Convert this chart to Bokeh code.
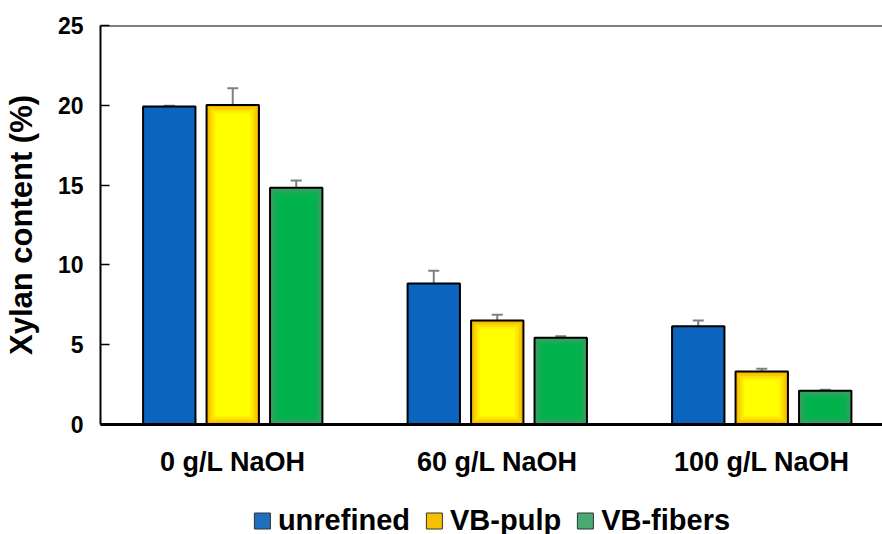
from bokeh.plotting import figure
from bokeh.layouts import column
from bokeh.models import (ColumnDataSource, Range1d, FixedTicker, Whisker, TeeHead,
                          Span, Legend, LegendItem)
from bokeh.embed import file_html
from bokeh.resources import INLINE

# ---- data ----
groups = ["0 g/L NaOH", "60 g/L NaOH", "100 g/L NaOH"]
series = ["unrefined", "VB-pulp", "VB-fibers"]
unrefined = [19.92, 8.83, 6.16]
vb_pulp = [20.02, 6.52, 3.32]
vb_fibers = [14.83, 5.43, 2.12]
err_unrefined = [0.05, 0.81, 0.36]
err_vb_pulp = [1.05, 0.35, 0.18]
err_vb_fibers = [0.46, 0.10, 0.05]
y_ticks = [0, 5, 10, 15, 20, 25]

values = [unrefined, vb_pulp, vb_fibers]
errors = [err_unrefined, err_vb_pulp, err_vb_fibers]

# ---- styling ----
FONT = "Liberation Sans"
offsets = [-0.24, 0.0, 0.24]
bar_w = 0.198
fills = [
    ["#0b64bd"],
    ["#f6b400", "#f9cc00", "#fbe000", "#fdf000", "#ffff00"],
    ["#3f9d64", "#26a65b", "#12ad53", "#05b14e", "#00b34c"],
]
swatch_colors = ["#1f6fc0", "#f5c000", "#4aa874"]

left_b, top_b = 100, 25
frame_w, frame_h = 782, 399
bottom_b = 66
px_per_group = 264.5

p = figure(frame_width=frame_w, frame_height=frame_h,
           output_backend="svg", toolbar_location=None,
           x_range=Range1d(-0.5, -0.5 + frame_w / px_per_group),
           y_range=Range1d(0, 25),
           min_border_left=left_b, min_border_top=top_b, min_border_right=0,
           min_border_bottom=bottom_b)
p.background_fill_color = "white"
p.border_fill_color = "white"
p.outline_line_color = None
p.grid.grid_line_color = None

dx_px = 2.2
for s in range(3):
    xs = [i + offsets[s] for i in range(len(groups))]
    vals = values[s]
    layers = fills[s]
    for k, col in enumerate(layers):
        ix = k * dx_px / px_per_group
        iy = k * dx_px * 25.0 / frame_h
        src = ColumnDataSource(dict(x=xs, top=[v - iy for v in vals],
                                    bottom=[iy] * len(vals)))
        p.vbar(x="x", top="top", bottom="bottom", width=bar_w - 2 * ix, source=src,
               fill_color=col, line_color=None)
    src_o = ColumnDataSource(dict(x=xs, top=vals))
    p.vbar(x="x", top="top", width=bar_w, source=src_o, fill_color=None,
           line_color="black", line_width=2)
    esrc = ColumnDataSource(dict(x=xs,
                                 upper=[v + e for v, e in zip(vals, errors[s])],
                                 lower=[v - e for v, e in zip(vals, errors[s])]))
    wk = Whisker(base="x", upper="upper", lower="lower", source=esrc,
                 line_color="#808080", line_width=2,
                 upper_head=TeeHead(size=11, line_color="#808080", line_width=2),
                 lower_head=TeeHead(size=11, line_color="#808080", line_width=2))
    p.add_layout(wk)

p.add_layout(Span(location=25, dimension="width", line_color="black", line_width=2))

p.yaxis.ticker = FixedTicker(ticks=y_ticks)
p.yaxis.major_tick_in = 9
p.yaxis.major_tick_out = 0
p.yaxis.minor_tick_line_color = None
p.yaxis.axis_line_width = 2
p.yaxis.major_tick_line_width = 1.5
p.yaxis.major_label_text_font = FONT
p.yaxis.major_label_text_font_style = "bold"
p.yaxis.major_label_text_font_size = "23px"
p.yaxis.major_label_text_color = "black"
p.yaxis.major_label_standoff = 17
p.yaxis.axis_label = "Xylan content (%)"
p.yaxis.axis_label_text_font = FONT
p.yaxis.axis_label_text_font_style = "bold"
p.yaxis.axis_label_text_font_size = "31px"
p.yaxis.axis_label_text_color = "black"
p.yaxis.axis_label_standoff = 16

p.xaxis.ticker = FixedTicker(ticks=list(range(len(groups))))
p.xaxis.major_label_overrides = {i: g for i, g in enumerate(groups)}
p.xaxis.major_tick_line_color = None
p.xaxis.minor_tick_line_color = None
p.xaxis.axis_line_width = 3
p.xaxis.major_label_text_font = FONT
p.xaxis.major_label_text_font_style = "bold"
p.xaxis.major_label_text_font_size = "27px"
p.xaxis.major_label_text_color = "black"
p.xaxis.major_label_standoff = 16

# ---- legend strip ----
p2 = figure(frame_width=frame_w, frame_height=40, output_backend="svg",
            toolbar_location=None, x_range=Range1d(0, 1), y_range=Range1d(0, 1),
            min_border_left=left_b, min_border_right=0, min_border_top=10,
            min_border_bottom=0, x_axis_location=None, y_axis_location=None)
p2.outline_line_color = None
p2.grid.grid_line_color = None
p2.border_fill_color = "white"
items = []
for s in range(3):
    # zero-size proxy bars: only their legend swatches are visible
    r = p2.vbar(x=[5], top=[0], bottom=[0], width=0, fill_color=swatch_colors[s],
                line_color="#333333", line_width=1)
    items.append(LegendItem(label=series[s], renderers=[r]))
legend = Legend(items=items, orientation="horizontal", location="center",
                label_text_font=FONT, label_text_font_style="bold",
                label_text_font_size="29px", label_text_color="black",
                glyph_width=20, glyph_height=20, label_standoff=6, spacing=14,
                border_line_color=None, background_fill_alpha=0,
                margin=0, padding=0)
p2.add_layout(legend)

layout = column(p, p2, spacing=0)
open("out.html", "w").write(file_html(layout, INLINE))
